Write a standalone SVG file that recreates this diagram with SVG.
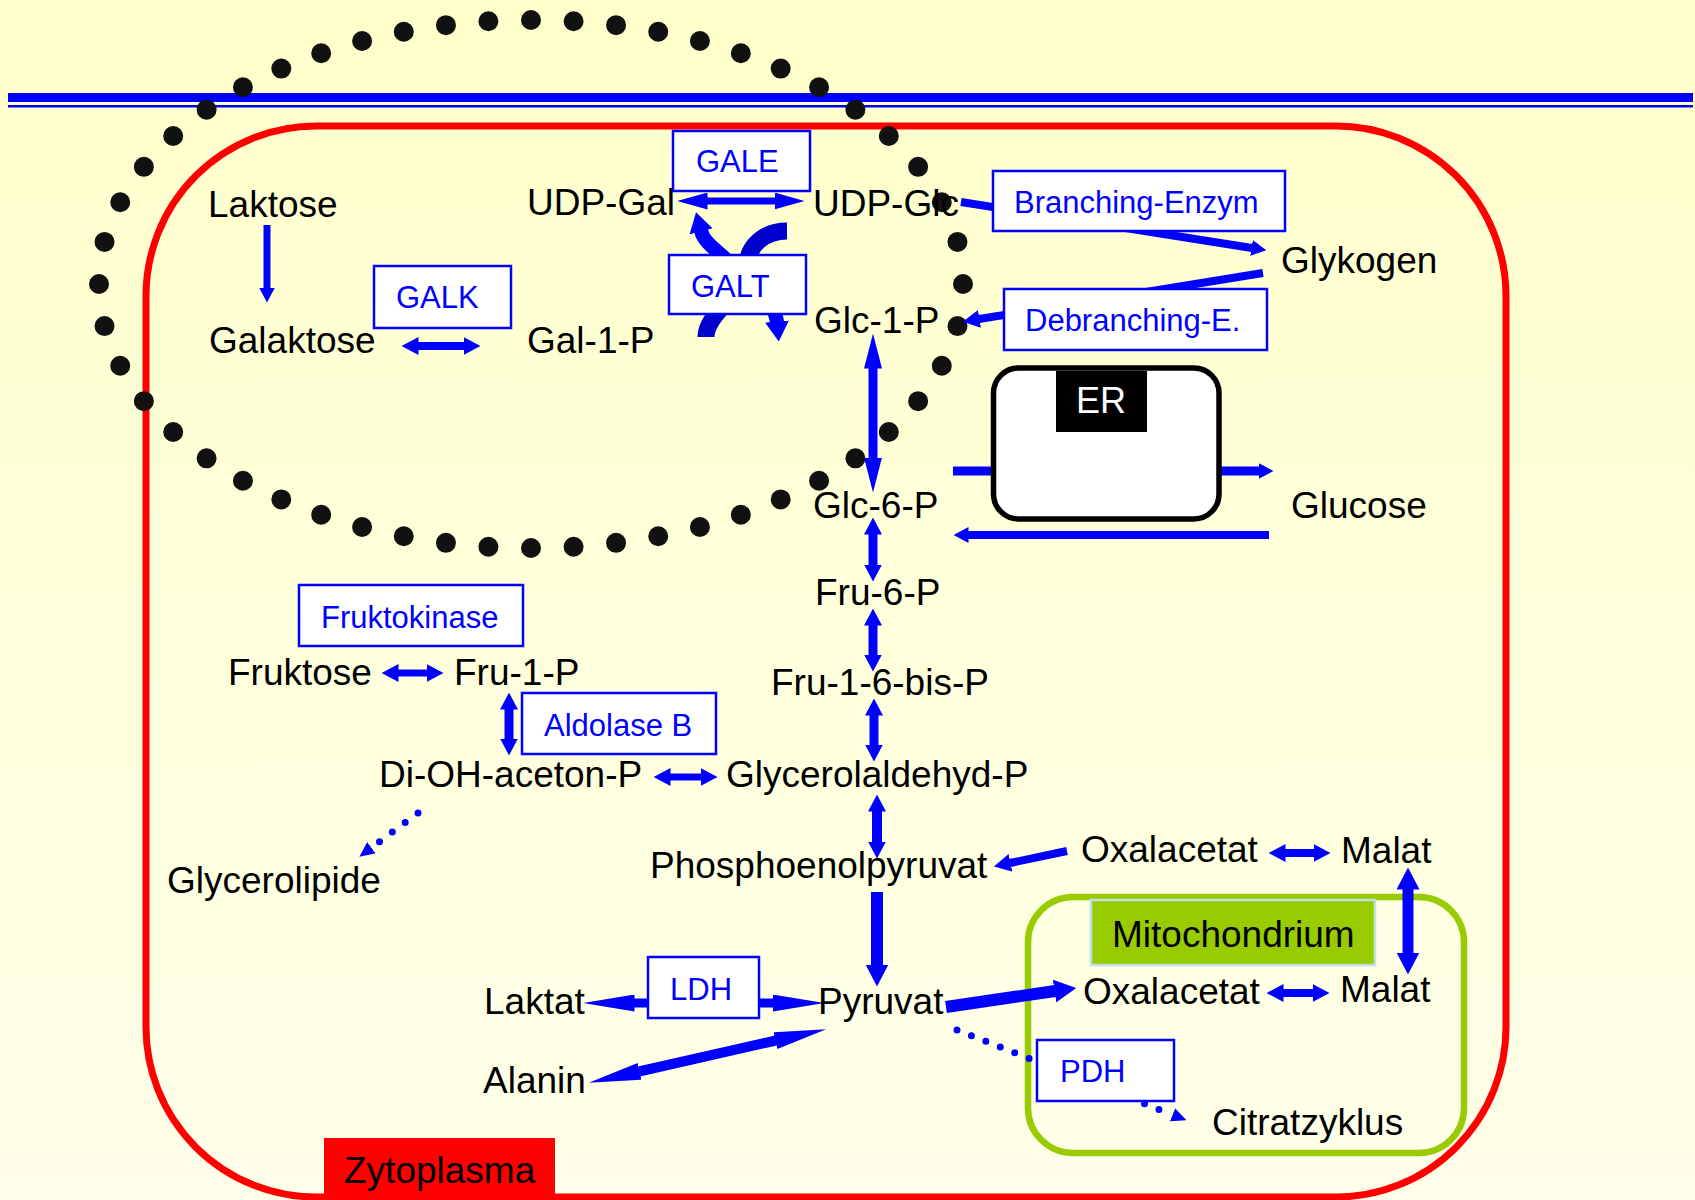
<svg xmlns="http://www.w3.org/2000/svg" width="1695" height="1200" viewBox="0 0 1695 1200">
<defs>
<linearGradient id="bg" x1="0" y1="0" x2="0" y2="1"><stop offset="0" stop-color="#FFFFCB"/><stop offset="1" stop-color="#FFFFEA"/></linearGradient>
<marker id="a1" markerUnits="userSpaceOnUse" markerWidth="17" markerHeight="18" viewBox="0 0 17 18" refX="0.5" refY="9" orient="auto-start-reverse"><path d="M0,0 L17,9 L0,18z" fill="#0000FF"/></marker>
<marker id="a2" markerUnits="userSpaceOnUse" markerWidth="30" markerHeight="17" viewBox="0 0 30 17" refX="0.5" refY="8.5" orient="auto-start-reverse"><path d="M0,0 L30,8.5 L0,17z" fill="#0000FF"/></marker>
<marker id="a3" markerUnits="userSpaceOnUse" markerWidth="35" markerHeight="18" viewBox="0 0 35 18" refX="0.5" refY="9" orient="auto-start-reverse"><path d="M0,0 L35,9 L0,18z" fill="#0000FF"/></marker>
<marker id="a4" markerUnits="userSpaceOnUse" markerWidth="52" markerHeight="17" viewBox="0 0 52 17" refX="0.5" refY="8.5" orient="auto-start-reverse"><path d="M0,0 L52,8.5 L0,17z" fill="#0000FF"/></marker>
<marker id="a5" markerUnits="userSpaceOnUse" markerWidth="22" markerHeight="23" viewBox="0 0 22 23" refX="0.5" refY="11.5" orient="auto-start-reverse"><path d="M0,0 L22,11.5 L0,23z" fill="#0000FF"/></marker>
<marker id="a6" markerUnits="userSpaceOnUse" markerWidth="15" markerHeight="16" viewBox="0 0 15 16" refX="0.5" refY="8" orient="auto-start-reverse"><path d="M0,0 L15,8 L0,16z" fill="#0000FF"/></marker>
<marker id="a7" markerUnits="userSpaceOnUse" markerWidth="15" markerHeight="14" viewBox="0 0 15 14" refX="0.5" refY="7" orient="auto-start-reverse"><path d="M0,0 L15,7 L0,14z" fill="#0000FF"/></marker>
<marker id="a8" markerUnits="userSpaceOnUse" markerWidth="20" markerHeight="24" viewBox="0 0 20 24" refX="0.5" refY="12" orient="auto-start-reverse"><path d="M0,0 L20,12 L0,24z" fill="#0000FF"/></marker>
<style>
.t{font-family:"Liberation Sans",Arial,sans-serif;font-size:37px;fill:#000}
.e{font-family:"Liberation Sans",Arial,sans-serif;font-size:31px;fill:#0000FF}
.box{fill:#fff;stroke:#0000FF;stroke-width:2.5}
.c{fill:none;stroke:#0000FF}
.dk{fill:none;stroke:#0000CC;stroke-width:17}
.d{fill:none;stroke:#0000FF;stroke-width:7;stroke-linecap:round}
</style>
</defs>

<rect x="0" y="0" width="1695" height="1200" fill="url(#bg)"/>

<g id="membrane">
<rect x="8" y="93" width="1685" height="9" fill="#0000FF"/>
<rect x="8" y="105" width="1685" height="2.5" fill="#0000FF"/>
</g>

<g id="zytoplasma">
<rect x="146" y="126" width="1360" height="1071" rx="170" ry="170" fill="none" stroke="#FF0000" stroke-width="7"/>
<rect x="324" y="1138" width="231" height="62" fill="#FF0000"/>
<text class="t" x="344" y="1183">Zytoplasma</text>
</g>

<g id="mitochondrium">
<rect x="1028" y="897" width="436" height="256" rx="45" ry="45" fill="none" stroke="#99CC00" stroke-width="6.5"/>
<rect x="1091" y="900" width="284" height="65" fill="#99CC00" stroke="#BFE0E6" stroke-width="2.5"/>
<text class="t" x="1112" y="947">Mitochondrium</text>
</g>

<g id="vesicle">
<ellipse cx="531" cy="284" rx="432" ry="264" fill="none" stroke="#111" stroke-width="20" stroke-linecap="round" stroke-dasharray="0 1" pathLength="52"/>
</g>

<g id="connectors">
<line class="c" x1="267" y1="225" x2="267" y2="288" stroke-width="7" marker-end="url(#a6)"/>
<line class="c" x1="418" y1="346" x2="464" y2="346" stroke-width="8" marker-start="url(#a1)" marker-end="url(#a1)"/>
<line class="c" x1="707" y1="201" x2="775" y2="201" stroke-width="7" marker-start="url(#a2)" marker-end="url(#a2)"/>
<path class="c" d="M706 337 C706 315 738 300 737 278 C736 258 706 250 701 231" stroke-width="14" marker-end="url(#a8)"/>
<path class="dk" d="M706 337 C706 315 738 300 737 278"/>
<path class="c" d="M787 231 C765 231 748 245 747 265 C746 290 775 300 777 322" stroke-width="14" marker-end="url(#a8)"/>
<path class="dk" d="M787 231 C765 231 748 245 747 265"/>
<line class="c" x1="873" y1="368" x2="873" y2="458" stroke-width="9" marker-start="url(#a3)" marker-end="url(#a3)"/>
<line class="c" x1="873" y1="534" x2="873" y2="565" stroke-width="9" marker-start="url(#a1)" marker-end="url(#a1)"/>
<line class="c" x1="873" y1="625" x2="873" y2="655" stroke-width="9" marker-start="url(#a1)" marker-end="url(#a1)"/>
<line class="c" x1="874" y1="715" x2="874" y2="745" stroke-width="9" marker-start="url(#a1)" marker-end="url(#a1)"/>
<line class="c" x1="877" y1="811" x2="877" y2="842" stroke-width="10" marker-start="url(#a1)" marker-end="url(#a1)"/>
<line class="c" x1="877" y1="892" x2="877" y2="965" stroke-width="12" marker-end="url(#a5)"/>
<line class="c" x1="1067" y1="851" x2="1010" y2="863" stroke-width="8" marker-end="url(#a1)"/>
<line class="c" x1="398" y1="673" x2="427" y2="673" stroke-width="7" marker-start="url(#a1)" marker-end="url(#a1)"/>
<line class="c" x1="509" y1="709" x2="509" y2="739" stroke-width="9" marker-start="url(#a1)" marker-end="url(#a1)"/>
<line class="c" x1="670" y1="777" x2="701" y2="777" stroke-width="7" marker-start="url(#a1)" marker-end="url(#a1)"/>
<line class="d" x1="418" y1="813" x2="371" y2="848" stroke-dasharray="0 16" marker-end="url(#a7)"/>
<line class="c" x1="953" y1="471" x2="1259" y2="471" stroke-width="9" marker-end="url(#a6)"/>
<line class="c" x1="1269" y1="535" x2="968" y2="535" stroke-width="8" marker-end="url(#a6)"/>
<line class="c" x1="961" y1="202" x2="1252" y2="248" stroke-width="8" marker-end="url(#a6)"/>
<line class="c" x1="1263" y1="273" x2="979" y2="319" stroke-width="8" marker-end="url(#a1)"/>
<line class="c" x1="634" y1="1003" x2="773" y2="1003" stroke-width="9" marker-start="url(#a4)" marker-end="url(#a4)"/>
<line class="c" x1="639" y1="1071.5" x2="776" y2="1040.5" stroke-width="10" marker-start="url(#a4)" marker-end="url(#a4)"/>
<line class="c" x1="946" y1="1007" x2="1055" y2="991" stroke-width="12" marker-end="url(#a5)"/>
<line class="d" x1="957" y1="1030" x2="1173" y2="1115" stroke-dasharray="0 15.5" marker-end="url(#a7)"/>
<line class="c" x1="1285" y1="853" x2="1314" y2="853" stroke-width="8" marker-start="url(#a1)" marker-end="url(#a1)"/>
<line class="c" x1="1283" y1="993" x2="1313" y2="993" stroke-width="8" marker-start="url(#a1)" marker-end="url(#a1)"/>
<line class="c" x1="1408" y1="889" x2="1408" y2="953" stroke-width="11" marker-start="url(#a5)" marker-end="url(#a5)"/>
</g>

<g id="er">
<rect x="993.5" y="368" width="225.5" height="151" rx="25" ry="25" fill="#fff" stroke="#000" stroke-width="5.5"/>
<rect x="1056" y="371" width="91" height="61" fill="#000"/>
<text x="1076" y="413" style="font-family:'Liberation Sans',Arial,sans-serif;font-size:36px;fill:#fff">ER</text>
</g>

<g id="laktose"><text class="t" x="208" y="217">Laktose</text></g>
<g id="galaktose"><text class="t" x="209" y="353">Galaktose</text></g>
<g id="udp-gal"><text class="t" x="527" y="215">UDP-Gal</text></g>
<g id="gal-1-p"><text class="t" x="527" y="353">Gal-1-P</text></g>
<g id="udp-glc"><text class="t" x="813" y="216">UDP-Glc</text></g>
<g id="glc-1-p"><text class="t" x="814" y="333">Glc-1-P</text></g>
<g id="glykogen"><text class="t" x="1281" y="273">Glykogen</text></g>
<g id="glc-6-p"><text class="t" x="813" y="518">Glc-6-P</text></g>
<g id="glucose"><text class="t" x="1291" y="518">Glucose</text></g>
<g id="fru-6-p"><text class="t" x="815" y="605">Fru-6-P</text></g>
<g id="fru-1-6-bis-p"><text class="t" x="771" y="695">Fru-1-6-bis-P</text></g>
<g id="fruktose"><text class="t" x="228" y="685">Fruktose</text></g>
<g id="fru-1-p"><text class="t" x="454" y="685">Fru-1-P</text></g>
<g id="di-oh-aceton-p"><text class="t" x="379" y="787">Di-OH-aceton-P</text></g>
<g id="glycerolaldehyd-p"><text class="t" x="726" y="787">Glycerolaldehyd-P</text></g>
<g id="glycerolipide"><text class="t" x="167" y="893">Glycerolipide</text></g>
<g id="pep"><text class="t" x="650" y="878">Phosphoenolpyruvat</text></g>
<g id="oxalacetat-cyt"><text class="t" x="1081" y="862">Oxalacetat</text></g>
<g id="malat-cyt"><text class="t" x="1341" y="863">Malat</text></g>
<g id="laktat"><text class="t" x="484" y="1014">Laktat</text></g>
<g id="pyruvat"><text class="t" x="818" y="1014">Pyruvat</text></g>
<g id="alanin"><text class="t" x="483" y="1093">Alanin</text></g>
<g id="oxalacetat-mito"><text class="t" x="1083" y="1004">Oxalacetat</text></g>
<g id="malat-mito"><text class="t" x="1340" y="1002">Malat</text></g>
<g id="citratzyklus"><text class="t" x="1212" y="1135">Citratzyklus</text></g>

<g id="gale"><rect class="box" x="673" y="131" width="137" height="60"/><text class="e" x="696" y="172">GALE</text></g>
<g id="galt"><rect class="box" x="669" y="255" width="137" height="59"/><text class="e" x="691" y="297">GALT</text></g>
<g id="galk"><rect class="box" x="374" y="266" width="137" height="62"/><text class="e" x="396" y="308">GALK</text></g>
<g id="branching-enzym"><rect class="box" x="993" y="171" width="292" height="60"/><text class="e" x="1014" y="213">Branching-Enzym</text></g>
<g id="debranching-e"><rect class="box" x="1004" y="289" width="263" height="61"/><text class="e" x="1025" y="331">Debranching-E.</text></g>
<g id="fruktokinase"><rect class="box" x="299" y="585" width="224" height="61"/><text class="e" x="321" y="628">Fruktokinase</text></g>
<g id="aldolase-b"><rect class="box" x="522" y="693" width="194" height="61"/><text class="e" x="544" y="736">Aldolase B</text></g>
<g id="ldh"><rect class="box" x="648" y="957" width="111" height="61"/><text class="e" x="670" y="1000">LDH</text></g>
<g id="pdh"><rect class="box" x="1037" y="1040" width="137" height="61"/><text class="e" x="1060" y="1082">PDH</text></g>
</svg>
